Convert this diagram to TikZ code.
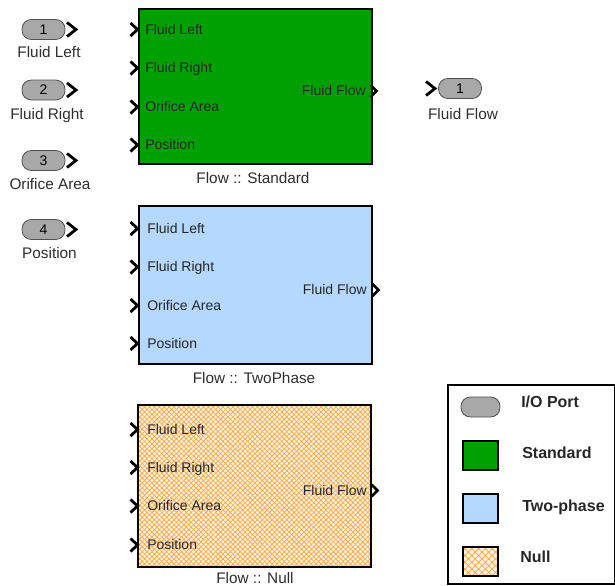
\documentclass[tikz,border=0pt]{standalone}
\usepackage{fontspec}
\setmainfont{Liberation Sans}
\usetikzlibrary{patterns.meta}
\definecolor{stdgreen}{RGB}{0,160,0}
\definecolor{tpblue}{RGB}{180,216,255}
\definecolor{nullbg}{RGB}{255,240,222}
\definecolor{nullline}{RGB}{248,168,70}
\definecolor{pillgray}{RGB}{168,168,168}
\definecolor{pilledge}{RGB}{80,80,80}
\definecolor{labelgray}{RGB}{45,45,45}
\tikzset{
  blk/.style={draw=black, line width=1.5pt, minimum width={233*0.75pt}, inner sep=0pt, anchor=north west},
  nullfill/.style={preaction={fill=nullbg}, pattern={Hatch[angle=45,distance=2.6pt,line width=0.5pt]}, pattern color=nullline},
  txt/.style={inner sep=0pt, text height=0.716em, text depth=0pt},
  inlbl/.style={txt, font=\fontsize{10.5}{12}\selectfont, text=black!85},
  outlbl/.style={txt, font=\fontsize{11.5}{13}\selectfont, text=labelgray},
  leglbl/.style={txt, font=\fontsize{12}{14}\selectfont\bfseries, text=black!85, anchor=west},
  pill/.style={draw=pilledge, line width=0.6pt, fill=pillgray, rounded corners=7pt, inner sep=0pt,
    minimum width={43*0.75pt}, minimum height={20*0.75pt}, font=\fontsize{10.5}{12}\selectfont, text height=0.716em, text depth=0pt},
  chev/.style={draw=black, line width=2.1pt, line join=miter, line cap=butt},
  legsq/.style={draw=black, line width=1.5pt, minimum width={35*0.75pt}, minimum height={29*0.75pt}, inner sep=0pt},
  chevin/.pic={\draw[chev] (-7,-6.5) -- (0,0) -- (-7,6.5);},
  chevout/.pic={\draw[chev] (-6,-6) -- (0,0) -- (-6,6);},
  chevbig/.pic={\draw[chev] (-9,-7) -- (0,0) -- (-9,7);}
}
\begin{document}
\begin{tikzpicture}[x=0.75pt,y=-0.75pt]
\useasboundingbox (0,0) rectangle (615,586);

% ---------- blocks ----------
\node[blk, fill=stdgreen, minimum height={155*0.75pt}] (std) at (138,8) {};
\node[blk, fill=tpblue, minimum height={158*0.75pt}] (tp) at (138,205) {};
\node[blk, nullfill, minimum height={162*0.75pt}] (nul) at (138,405) {};

% Standard labels
\node[inlbl, anchor=west] (std-l1) at (145,29.5) {Fluid Left};
\node[inlbl, anchor=west] (std-l2) at (145,68) {Fluid Right};
\node[inlbl, anchor=west] (std-l3) at (145,107) {Orifice Area};
\node[inlbl, anchor=west] (std-l4) at (145,145) {Position};
\node[inlbl, anchor=east] (std-lo) at (366,90.5) {Fluid Flow};
\node[outlbl] (std-name) at (253,178.5) {Flow :: Standard};
\foreach \y [count=\i] in {29.5,68,107,145} { \coordinate (std-in\i) at (137.5,\y); \pic at (std-in\i) {chevin}; }
\coordinate (std-out) at (376.5,91); \pic at (std-out) {chevout};

% TwoPhase labels
\node[inlbl, anchor=west] (tp-l1) at (147,228.5) {Fluid Left};
\node[inlbl, anchor=west] (tp-l2) at (147,267) {Fluid Right};
\node[inlbl, anchor=west] (tp-l3) at (147,305.5) {Orifice Area};
\node[inlbl, anchor=west] (tp-l4) at (147,343.5) {Position};
\node[inlbl, anchor=east] (tp-lo) at (367,290) {Fluid Flow};
\node[outlbl] (tp-name) at (254,378.5) {Flow :: TwoPhase};
\foreach \y [count=\i] in {228.5,267,305.5,343.5} { \coordinate (tp-in\i) at (137.5,\y); \pic at (tp-in\i) {chevin}; }
\coordinate (tp-out) at (378.5,290); \pic at (tp-out) {chevout};

% Null labels
\node[inlbl, anchor=west] (nul-l1) at (147,429.5) {Fluid Left};
\node[inlbl, anchor=west] (nul-l2) at (147,467.5) {Fluid Right};
\node[inlbl, anchor=west] (nul-l3) at (147,506) {Orifice Area};
\node[inlbl, anchor=west] (nul-l4) at (147,545) {Position};
\node[inlbl, anchor=east] (nul-lo) at (367,490.5) {Fluid Flow};
\node[outlbl] (nul-name) at (255,578.5) {Flow :: Null};
\foreach \y [count=\i] in {429.5,467.5,506,545} { \coordinate (nul-in\i) at (137.5,\y); \pic at (nul-in\i) {chevin}; }
\coordinate (nul-out) at (377.5,490.5); \pic at (nul-out) {chevout};

% ---------- inports ----------
\node[pill] (in1) at (43.5,29.5) {1};
\node[pill] (in2) at (43.5,90) {2};
\node[pill] (in3) at (43.5,160.5) {3};
\node[pill] (in4) at (43.5,229.5) {4};
\foreach \n/\y in {1/29.5,2/90,3/160.5,4/229.5} { \coordinate (in\n-tip) at (76,\y); \pic at (in\n-tip) {chevbig}; }
\node[outlbl] (in1-lbl) at (49,53) {Fluid Left};
\node[outlbl] (in2-lbl) at (47,115) {Fluid Right};
\node[outlbl] (in3-lbl) at (50,185) {Orifice Area};
\node[outlbl] (in4-lbl) at (49.5,254) {Position};

% ---------- outport ----------
\node[pill] (out1) at (460,88.5) {1};
\coordinate (out1-tip) at (435,88.5); \pic at (out1-tip) {chevbig};
\node[outlbl] (out1-lbl) at (463,115) {Fluid Flow};

% ---------- legend ----------
\node[draw=black, line width=1.2pt, anchor=north west, minimum width={167*0.75pt}, minimum height={199*0.75pt}, inner sep=0pt] (leg) at (447,384) {};
\node[pill, minimum width={39*0.75pt}, minimum height={20*0.75pt}] (leg-pill) at (480.5,407) {};
\node[legsq, fill=stdgreen] (leg-std) at (480.5,455.5) {};
\node[legsq, fill=tpblue] (leg-tp) at (480.5,508.5) {};
\node[legsq, preaction={fill=nullbg}, pattern={Hatch[angle=45,distance=3.6pt,line width=0.55pt]}, pattern color=nullline] (leg-nul) at (480.5,561) {};
\node[leglbl] (leg-t1) at (521,403) {I/O Port};
\node[leglbl] (leg-t2) at (522,453.5) {Standard};
\node[leglbl] (leg-t3) at (522,507) {Two-phase};
\node[leglbl] (leg-t4) at (520,558) {Null};
\end{tikzpicture}
\end{document}
